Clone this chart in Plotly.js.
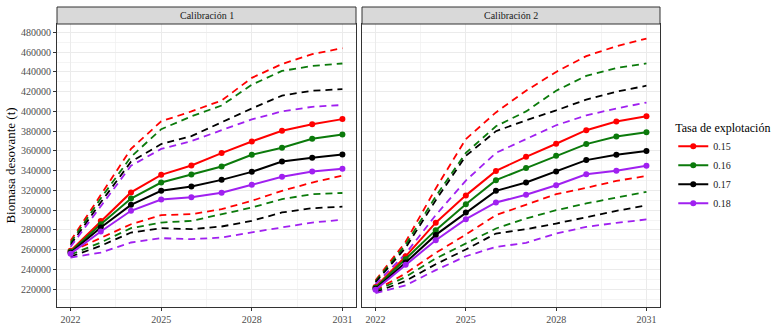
<!DOCTYPE html>
<html>
<head>
<meta charset="utf-8">
<script src="https://cdn.plot.ly/plotly-3.0.1.min.js"></script>
<style>html,body{margin:0;padding:0;background:#fff;}#chart{width:780px;height:325px;}</style>
</head>
<body>
<div id="chart"></div>
<script>
// ---------- data ----------
const years = [2022, 2023, 2024, 2025, 2026, 2027, 2028, 2029, 2030, 2031];
const rates = ['0.15', '0.16', '0.17', '0.18'];
const panels = ['Calibración 1', 'Calibración 2'];
const xTicks = [2022, 2025, 2028, 2031];

// Calibración 1 : median (solid), lower and upper bounds (dashed)
const cal1_mid_015 = [259000, 289000, 318000, 335800, 345300, 357800, 369600, 380400, 387100, 392200];
const cal1_mid_016 = [258000, 285800, 311800, 328000, 336100, 344300, 356100, 363200, 372300, 376700];
const cal1_mid_017 = [257000, 282500, 305400, 319600, 324000, 330700, 338800, 349300, 353000, 356400];
const cal1_mid_018 = [256000, 278400, 299400, 310800, 313200, 317600, 325700, 333800, 339200, 341900];

const cal1_hi_015 = [269000, 315000, 362000, 390000, 400000, 411000, 434000, 448000, 458000, 464000];
const cal1_hi_016 = [267000, 312000, 354000, 382000, 395000, 406000, 427000, 441000, 446000, 448500];
const cal1_hi_017 = [265000, 308000, 349000, 367000, 375000, 389000, 403000, 416000, 421000, 422500];
const cal1_hi_018 = [263000, 304000, 345000, 362000, 370000, 381000, 392000, 400000, 404700, 406500];

const cal1_lo_015 = [258000, 272300, 285800, 295000, 296000, 301000, 309500, 319600, 328000, 335000];
const cal1_lo_016 = [255000, 267300, 281800, 287500, 289200, 296000, 302700, 311200, 316200, 317400];
const cal1_lo_017 = [253000, 263900, 277400, 281800, 280800, 283500, 289200, 297700, 302000, 303600];
const cal1_lo_018 = [252000, 257100, 267300, 271700, 270700, 272300, 277600, 282500, 287500, 290300];

// Calibración 2
const cal2_mid_015 = [222300, 253300, 287400, 315000, 339800, 354000, 367300, 381000, 389800, 395000];
const cal2_mid_016 = [221500, 250400, 279800, 306100, 330400, 342600, 355000, 366900, 374600, 378800];
const cal2_mid_017 = [220500, 247000, 275000, 297700, 319600, 328000, 339200, 350700, 356100, 360000];
const cal2_mid_018 = [219500, 244700, 269600, 290900, 307800, 315600, 325300, 336300, 339900, 344900];

const cal2_hi_015 = [229000, 268000, 322000, 372000, 399000, 421000, 440000, 456000, 466000, 473800];
const cal2_hi_016 = [228000, 265000, 314000, 358000, 385000, 400000, 421000, 436000, 444000, 448600];
const cal2_hi_017 = [227000, 262000, 310000, 355000, 380000, 391000, 401000, 412000, 420000, 426000];
const cal2_hi_018 = [225000, 256000, 295000, 330000, 358000, 372000, 386000, 396000, 403000, 409000];

const cal2_lo_015 = [219000, 236000, 256800, 275400, 295000, 305800, 316200, 322600, 329700, 334600];
const cal2_lo_016 = [218000, 232500, 251100, 266300, 281500, 291600, 300000, 306800, 312900, 318600];
const cal2_lo_017 = [217000, 228400, 245300, 260200, 276400, 280800, 286500, 293200, 299300, 304800];
const cal2_lo_018 = [216000, 224000, 239300, 253400, 262800, 266900, 276400, 283100, 287200, 290600];

// ---------- styling ----------
const colors = ['#FF0000', '#0B7A0B', '#000000', '#A020F0'];
const FONT = "'Liberation Serif', 'Times New Roman', serif";

const cal1 = {
  mid: [cal1_mid_015, cal1_mid_016, cal1_mid_017, cal1_mid_018],
  hi:  [cal1_hi_015, cal1_hi_016, cal1_hi_017, cal1_hi_018],
  lo:  [cal1_lo_015, cal1_lo_016, cal1_lo_017, cal1_lo_018]
};
const cal2 = {
  mid: [cal2_mid_015, cal2_mid_016, cal2_mid_017, cal2_mid_018],
  hi:  [cal2_hi_015, cal2_hi_016, cal2_hi_017, cal2_hi_018],
  lo:  [cal2_lo_015, cal2_lo_016, cal2_lo_017, cal2_lo_018]
};

const traces = [];
[cal1, cal2].forEach((cal, p) => {
  const xa = p === 0 ? 'x' : 'x2';
  const ya = p === 0 ? 'y' : 'y2';
  rates.forEach((r, i) => {
    ['hi', 'lo'].forEach(k => {
      traces.push({
        x: years, y: cal[k][i], xaxis: xa, yaxis: ya,
        mode: 'lines', type: 'scatter',
        line: {color: colors[i], width: 1.8, dash: '7px,5px'},
        legendgroup: r, showlegend: false, hoverinfo: 'skip'
      });
    });
  });
  rates.forEach((r, i) => {
    traces.push({
      x: years, y: cal.mid[i], xaxis: xa, yaxis: ya,
      mode: 'lines+markers', type: 'scatter', name: r,
      line: {color: colors[i], width: 2},
      marker: {color: colors[i], size: 6},
      legendgroup: r, showlegend: p === 0
    });
  });
});

const W = 603, H = 283;
const xDom1 = [0, (356 - 57) / W];
const xDom2 = [(362 - 57) / W, 1];
const stripTop = 1 + 17 / H;

const xCommon = {
  range: [2021.55, 2031.45], tickvals: xTicks, ticktext: xTicks.map(String),
  ticks: 'outside', ticklen: 3, tickcolor: '#333333', tickwidth: 1,
  tickfont: {family: FONT, size: 10, color: '#4D4D4D'},
  showgrid: true, gridcolor: '#EBEBEB', gridwidth: 1,
  minor: {tickvals: [2023.5, 2026.5, 2029.5], showgrid: true, gridcolor: '#F0F0F0', gridwidth: 0.7, ticks: ''},
  showline: true, mirror: true, linecolor: '#333333', linewidth: 1,
  zeroline: false, fixedrange: true
};
const yCommon = {
  range: [202000, 488500], dtick: 20000, tick0: 0, tickformat: 'd',
  showgrid: true, gridcolor: '#EBEBEB', gridwidth: 1,
  minor: {dtick: 10000, tick0: 0, showgrid: true, gridcolor: '#F0F0F0', gridwidth: 0.7, ticks: ''},
  showline: true, mirror: true, linecolor: '#333333', linewidth: 1,
  zeroline: false, fixedrange: true
};

const layout = {
  width: 780, height: 325,
  margin: {l: 57, r: 120, t: 24, b: 18, autoexpand: false},
  paper_bgcolor: '#FFFFFF', plot_bgcolor: '#FFFFFF',
  font: {family: FONT, size: 10, color: '#1A1A1A'},
  xaxis: Object.assign({}, xCommon, {domain: xDom1, anchor: 'y'}),
  xaxis2: Object.assign({}, xCommon, {domain: xDom2, anchor: 'y2'}),
  yaxis: Object.assign({}, yCommon, {
    anchor: 'x', ticks: 'outside', ticklen: 3, tickcolor: '#333333', tickwidth: 1,
    tickfont: {family: FONT, size: 10, color: '#4D4D4D'},
    title: {text: 'Biomasa desovante (t)', font: {family: FONT, size: 13, color: '#000000'}, standoff: 2}
  }),
  yaxis2: Object.assign({}, yCommon, {anchor: 'x2', matches: 'y', showticklabels: false, ticks: ''}),
  showlegend: true,
  legend: {
    x: 1.022, xanchor: 'left', y: 0.494, yanchor: 'middle',
    title: {text: 'Tasa de explotación', font: {family: FONT, size: 12, color: '#000000'}},
    font: {family: FONT, size: 10, color: '#1A1A1A'},
    itemwidth: 30, tracegroupgap: 0, bgcolor: 'rgba(0,0,0,0)'
  },
  shapes: [
    {type: 'rect', xref: 'x domain', yref: 'paper', x0: 0, x1: 1, y0: 1, y1: stripTop,
     fillcolor: '#D9D9D9', line: {color: '#333333', width: 1}, layer: 'above'},
    {type: 'rect', xref: 'x2 domain', yref: 'paper', x0: 0, x1: 1, y0: 1, y1: stripTop,
     fillcolor: '#D9D9D9', line: {color: '#333333', width: 1}, layer: 'above'}
  ],
  annotations: [
    {text: panels[0], xref: 'x domain', yref: 'paper', x: 0.5, y: (1 + stripTop) / 2,
     xanchor: 'center', yanchor: 'middle', showarrow: false,
     font: {family: FONT, size: 10, color: '#1A1A1A'}},
    {text: panels[1], xref: 'x2 domain', yref: 'paper', x: 0.5, y: (1 + stripTop) / 2,
     xanchor: 'center', yanchor: 'middle', showarrow: false,
     font: {family: FONT, size: 10, color: '#1A1A1A'}}
  ]
};

Plotly.newPlot('chart', traces, layout, {displayModeBar: false, staticPlot: true});
</script>
</body>
</html>
